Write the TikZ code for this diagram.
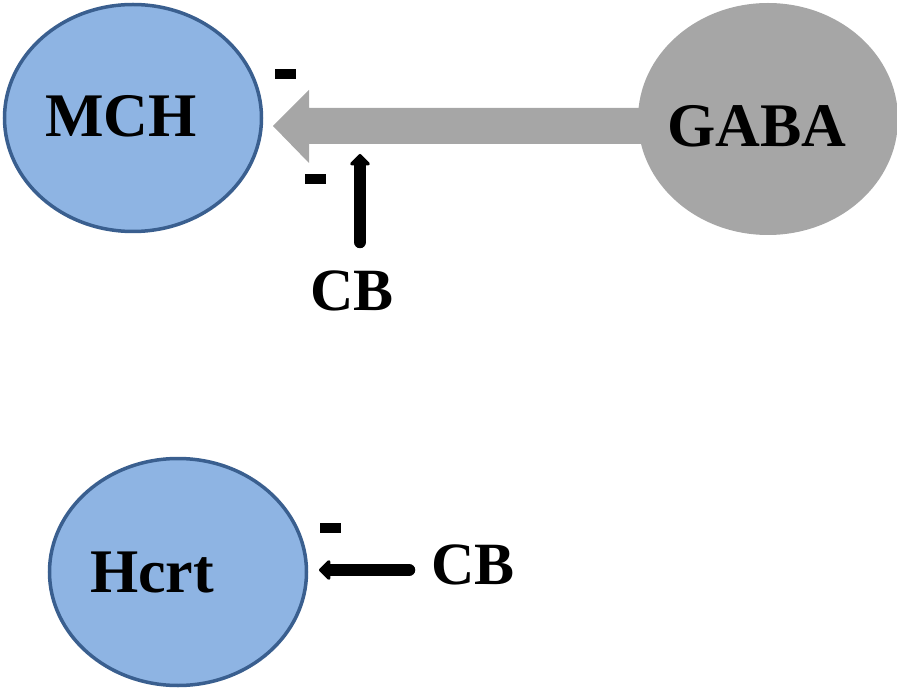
\documentclass[tikz,border=0pt]{standalone}
\usepackage{fontspec}
\setmainfont{Liberation Serif}
\usetikzlibrary{arrows.meta}
\definecolor{cellfill}{HTML}{8EB4E3}
\definecolor{celledge}{HTML}{3A5F8F}
\definecolor{gabagray}{HTML}{A6A6A6}
\tikzset{
  cell/.style={ellipse, fill=cellfill, draw=celledge, line width=3.5pt, minimum width=257pt, minimum height=227pt, inner sep=0pt},
  gabacell/.style={ellipse, fill=gabagray, minimum width=260pt, minimum height=232pt, inner sep=0pt},
  lbl/.style={font=\bfseries\fontsize{62}{62}\selectfont, anchor=base, inner sep=0pt},
  cblbl/.style={font=\bfseries\fontsize{60}{60}\selectfont, anchor=base, inner sep=0pt},
  minus/.style={fill=black, minimum width=21pt, minimum height=10pt, inner sep=0pt},
  cbarrow/.style={line width=12.5pt, line cap=round, -{Triangle[width=23pt,length=12pt,round]}}
}
\usetikzlibrary{shapes.geometric}
\begin{document}
\begin{tikzpicture}[x=1pt,y=-1pt]
\useasboundingbox (0,0) rectangle (897,692);
% cells
\node[cell] (MCH) at (133,118) {};
\node[gabacell] (GABA) at (768,119) {};
\node[cell] (Hcrt) at (178,572) {};
% big gray arrow
\coordinate (tipA) at (273,126);
\fill[gabagray] (tipA) -- ++(36,-36) -- ++(0,18) -- ++(345,0) -- ++(0,36) -- ++(-345,0) -- ++(0,19) -- cycle;
% labels
\node[lbl] (MCHt) at (121,137) {MCH};
\node[lbl] (GABAt) at (757,147) {GABA};
\node[lbl] (Hcrtt) at (152,592) {Hcrt};
\node[cblbl] (CB1) at (352,311) {CB};
\node[cblbl] (CB2) at (473,584) {CB};
% minus signs
\node[minus] (m1) at (285.5,74) {};
\node[minus] (m2) at (315.5,179) {};
\node[minus] (m3) at (330.5,528) {};
% CB arrows
\coordinate (cb1tail) at (360,242);
\coordinate (cb1tip) at (360,154);
\draw[cbarrow] (cb1tail) -- (cb1tip);
\coordinate (cb2tail) at (409,570);
\coordinate (cb2tip) at (319,570);
\draw[cbarrow] (cb2tail) -- (cb2tip);
\end{tikzpicture}
\end{document}
